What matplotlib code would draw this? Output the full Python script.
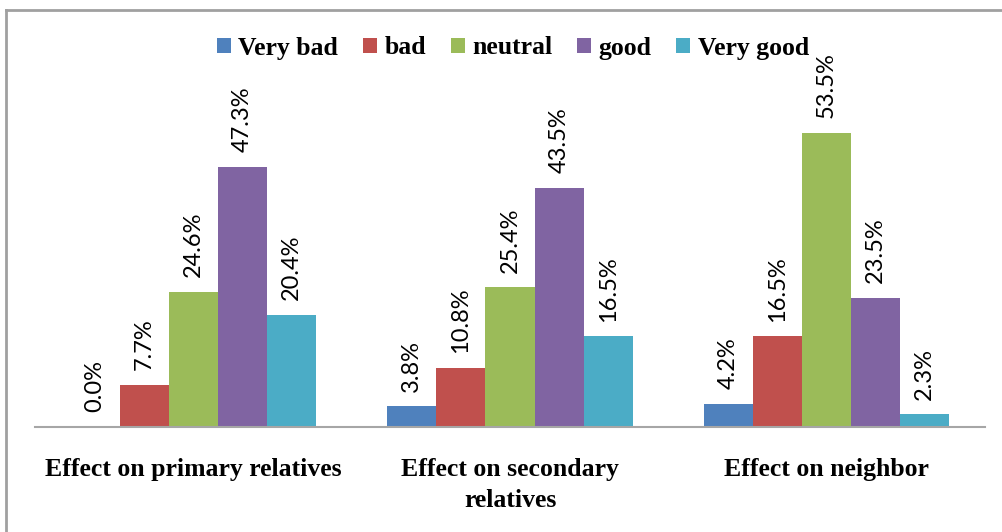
import matplotlib.pyplot as plt
import numpy as np

# --- Data ---
categories = ['Effect on primary relatives', 'Effect on secondary\nrelatives', 'Effect on neighbor']
ratings = ['Very bad', 'bad', 'neutral', 'good', 'Very good']
very_bad = [0.0, 3.8, 4.2]
bad = [7.7, 10.8, 16.5]
neutral = [24.6, 25.4, 53.5]
good = [47.3, 43.5, 23.5]
very_good = [20.4, 16.5, 2.3]
colors = ['#4F81BD', '#C0504D', '#9BBB59', '#8064A2', '#4BACC6']

series = [very_bad, bad, neutral, good, very_good]

fig = plt.figure(figsize=(10.03, 5.32), dpi=100)
ax = fig.add_axes([35 / 1003, 105 / 532, 950 / 1003, 385 / 532])

x = np.arange(len(categories))
width = 0.155
for i, (vals, name, c) in enumerate(zip(series, ratings, colors)):
    pos = x + (i - 2) * width
    bars = ax.bar(pos, vals, width, color=c, label=name)
    for b, v in zip(bars, vals):
        ax.annotate(f'{v:.1f}%', (b.get_x() + b.get_width() / 2, v),
                    xytext=(0, 10.5), textcoords='offset points',
                    rotation=90, ha='center', va='bottom',
                    fontsize=17, family='Lato')

ax.set_xlim(-0.5, 2.5)
ax.set_ylim(0, 70)
ax.set_yticks([])
ax.set_xticks(x)
ax.set_xticklabels(categories, fontsize=18.5, family='Liberation Serif',
                   fontweight='bold', linespacing=1.45)
ax.tick_params(axis='x', length=0, pad=22)
for s in ['top', 'right', 'left']:
    ax.spines[s].set_visible(False)
ax.spines['bottom'].set_color('#A6A6A6')
ax.spines['bottom'].set_linewidth(1.5)

leg = ax.legend(loc='center', bbox_to_anchor=(513 / 1003, 1 - 48 / 532),
                bbox_transform=fig.transFigure, ncol=5, frameon=False,
                prop={'family': 'Liberation Serif', 'weight': 'bold', 'size': 18.5},
                handlelength=0.55, handleheight=0.55, handletextpad=0.3,
                columnspacing=0.95)

# outer frame (left and top edges)
fig.add_artist(plt.Line2D([6 / 1003, 6 / 1003], [0, 1 - 10 / 532],
                          transform=fig.transFigure, color='#A0A0A0', lw=2))
fig.add_artist(plt.Line2D([6 / 1003, 1], [1 - 10 / 532, 1 - 10 / 532],
                          transform=fig.transFigure, color='#A0A0A0', lw=2))

fig.savefig('out.png', dpi=100)
